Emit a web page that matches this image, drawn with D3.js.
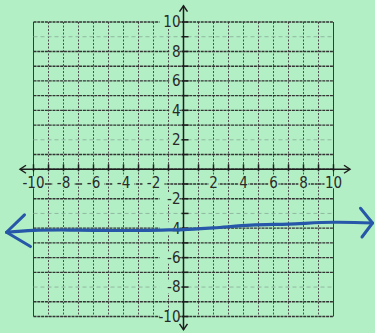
<!DOCTYPE html>
<html>
<head>
<meta charset="utf-8">
<script src="https://cdn.jsdelivr.net/npm/d3@7"></script>
<style>
  html, body { margin: 0; padding: 0; background: #b3efc5; }
  #chart { width: 375px; height: 333px; }
</style>
</head>
<body>
<div id="chart"></div>
<script>
// grid values
const gridValues = d3.range(-10, 11);
const lightRows = [9, 2, -3, -8];
const xTickLabels = [-10, -8, -6, -4, -2, 2, 4, 6, 8, 10];
const yTickLabels = [10, 8, 6, 4, 2, -2, -4, -6, -8, -10];

// hand drawn line (x, y in graph units)
const lineX = [-11.8, -10, -7, -4, -1, 0, 2, 4.5, 7, 10, 12.6];
const lineY = [-4.28, -4.15, -4.13, -4.16, -4.12, -4.1, -3.98, -3.8, -3.72, -3.6, -3.65];

// arrowheads drawn at both ends
const leftHeadX = [-10.6, -11.8, -10.2];
const leftHeadY = [-3.1, -4.28, -5.25];
const rightHeadX = [11.8, 12.6, 11.9];
const rightHeadY = [-2.65, -3.65, -4.6];

const width = 375;
const height = 333;
const bg = '#b3efc5';

const svg = d3.select('#chart')
  .append('svg')
  .attr('width', width)
  .attr('height', height);

svg.append('rect')
  .attr('width', width)
  .attr('height', height)
  .attr('fill', bg);

const x = d3.scaleLinear().domain([-10, 10]).range([33.5, 333.5]);
const y = d3.scaleLinear().domain([-10, 10]).range([316.5, 22]);

// grid
const grid = svg.append('g');

grid.selectAll('.vline')
  .data(gridValues)
  .enter()
  .append('line')
  .attr('x1', d => x(d))
  .attr('x2', d => x(d))
  .attr('y1', y(10))
  .attr('y2', y(-10))
  .attr('stroke', d => Math.abs(d) === 10 ? '#3a3a3a' : '#4f4f4f')
  .attr('stroke-width', 1)
  .attr('stroke-dasharray', d => Math.abs(d) === 10 ? null : '2,1.5');

grid.selectAll('.hline')
  .data(gridValues)
  .enter()
  .append('line')
  .attr('x1', x(-10))
  .attr('x2', x(10))
  .attr('y1', d => y(d))
  .attr('y2', d => y(d))
  .attr('stroke', d => lightRows.includes(d) ? '#8fb8a0' : '#333')
  .attr('stroke-width', d => lightRows.includes(d) ? 1 : 1.4)
  .attr('stroke-dasharray', d => lightRows.includes(d) ? '4,3' : '3,0.8');

// axes
const axisColor = '#1e1e1e';
const axes = svg.append('g')
  .attr('stroke', axisColor)
  .attr('fill', 'none')
  .attr('stroke-width', 1.5);

axes.append('line')
  .attr('x1', x(-10.9)).attr('x2', x(11.1))
  .attr('y1', y(0)).attr('y2', y(0));
axes.append('line')
  .attr('x1', x(0)).attr('x2', x(0))
  .attr('y1', y(11.1)).attr('y2', y(-10.9));

// arrow tips on axes
axes.append('path')
  .attr('d', `M${x(-10.5)},${y(0) - 4}L${x(-10.9)},${y(0)}L${x(-10.5)},${y(0) + 4}`);
axes.append('path')
  .attr('d', `M${x(10.7)},${y(0) - 4}L${x(11.1)},${y(0)}L${x(10.7)},${y(0) + 4}`);
axes.append('path')
  .attr('d', `M${x(0) - 4},${y(10.7)}L${x(0)},${y(11.1)}L${x(0) + 4},${y(10.7)}`);
axes.append('path')
  .attr('d', `M${x(0) - 4},${y(-10.5)}L${x(0)},${y(-10.9)}L${x(0) + 4},${y(-10.5)}`);

// ticks
axes.selectAll('.xtick')
  .data(gridValues.filter(d => d !== 0))
  .enter()
  .append('line')
  .attr('x1', d => x(d)).attr('x2', d => x(d))
  .attr('y1', y(0) - 5).attr('y2', y(0) + 2);
axes.selectAll('.ytick')
  .data(gridValues.filter(d => d !== 0))
  .enter()
  .append('line')
  .attr('x1', x(0) - 2).attr('x2', x(0) + 5)
  .attr('y1', d => y(d)).attr('y2', d => y(d));

// labels
const fontFamily = '"DejaVu Sans Condensed", "Liberation Sans Narrow", sans-serif';

const xLabels = svg.selectAll('.xlabel')
  .data(xTickLabels)
  .enter()
  .append('g')
  .attr('transform', d => `translate(${x(d)},${y(0) + 13})`);
xLabels.append('rect')
  .attr('x', d => d < 0 ? -11 : (d === 10 ? -9 : -5))
  .attr('y', -6)
  .attr('width', d => d < 0 ? 22 : (d === 10 ? 18 : 10))
  .attr('height', 12)
  .attr('fill', bg);
xLabels.append('text')
  .attr('text-anchor', 'middle')
  .attr('dy', '0.36em')
  .style('font-family', fontFamily)
  .style('font-size', '15px')
  .style('fill', '#2a2a2a')
  .text(d => String(d));

const yLabels = svg.selectAll('.ylabel')
  .data(yTickLabels)
  .enter()
  .append('g')
  .attr('transform', d => `translate(${x(0) - 3},${y(d)})`);
yLabels.append('rect')
  .attr('x', d => (d < 0 || d === 10) ? -21 : -11)
  .attr('y', -6)
  .attr('width', d => (d < 0 || d === 10) ? 20 : 10)
  .attr('height', 12)
  .attr('fill', bg);
yLabels.append('text')
  .attr('text-anchor', 'end')
  .attr('dy', '0.36em')
  .style('font-family', fontFamily)
  .style('font-size', '15px')
  .style('fill', '#2a2a2a')
  .text(d => String(d));

// hand drawn blue line
const penColor = '#2657a8';
const pen = d3.line()
  .x(d => x(d[0]))
  .y(d => y(d[1]))
  .curve(d3.curveCatmullRom);

svg.append('path')
  .datum(d3.zip(lineX, lineY))
  .attr('d', pen)
  .attr('fill', 'none')
  .attr('stroke', penColor)
  .attr('stroke-width', 3.2)
  .attr('stroke-linecap', 'round')
  .attr('stroke-linejoin', 'round');

const headLine = d3.line()
  .x(d => x(d[0]))
  .y(d => y(d[1]));

[[leftHeadX, leftHeadY], [rightHeadX, rightHeadY]].forEach(([hx, hy]) => {
  svg.append('path')
    .datum(d3.zip(hx, hy))
    .attr('d', headLine)
    .attr('fill', 'none')
    .attr('stroke', penColor)
    .attr('stroke-width', 3)
    .attr('stroke-linecap', 'round')
    .attr('stroke-linejoin', 'round');
});
</script>
</body>
</html>
